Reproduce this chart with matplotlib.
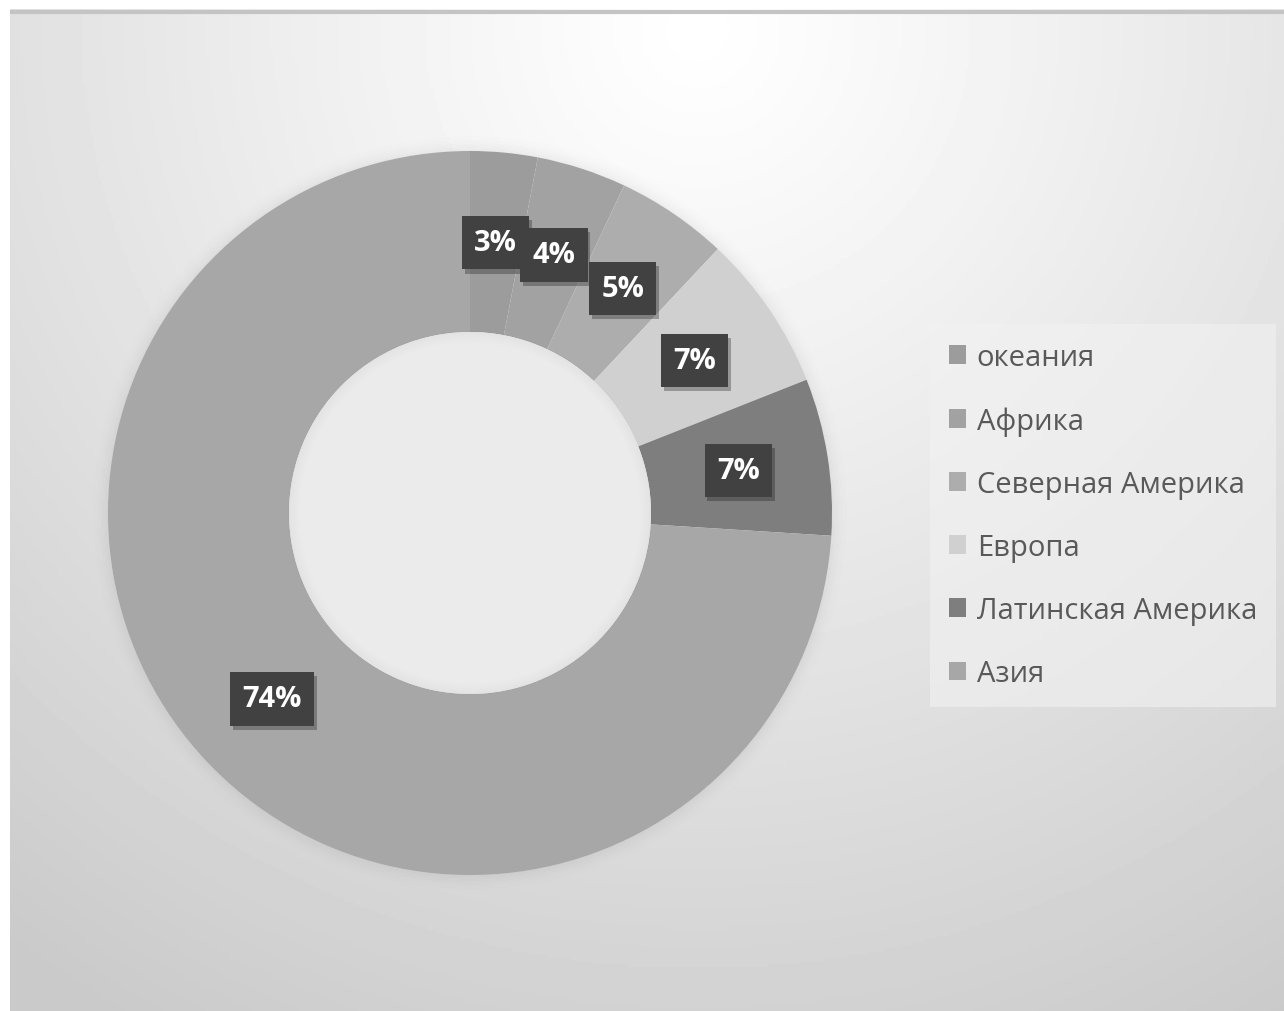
import numpy as np
import matplotlib.pyplot as plt
import matplotlib.patheffects as pe
from matplotlib.patches import Circle

# данные
regions = ['океания', 'Африка', 'Северная Америка', 'Европа', 'Латинская Америка', 'Азия']
shares = [3, 4, 5, 7, 7, 74]
colors = ['#9c9c9c', '#a2a2a2', '#adadad', '#d0d0d0', '#7e7e7e', '#a7a7a7']

plt.rcParams['font.family'] = ['Open Sans', 'DejaVu Sans']

W, H = 1284, 1012
fig = plt.figure(figsize=(W / 100, H / 100), dpi=100)
fig.patch.set_facecolor('white')

# фон с радиальным градиентом
bg = fig.add_axes([10 / W, 0, 1 - 10 / W, 1 - 10 / H])
gx, gy = np.meshgrid(np.linspace(0, 1, 400), np.linspace(0, 1, 320))
d = np.sqrt(((gx - 0.54) * 1.27) ** 2 + (gy - 0.02) ** 2)
shade = 1.0 - 0.21 * np.clip(d / 1.15, 0, 1) ** 1.1
bg.imshow(shade, cmap='gray', vmin=0, vmax=1, extent=(0, 1, 1, 0), aspect='auto')
bg.axhline(0.003, color='#c4c4c4', lw=3)
bg.set_xlim(0, 1)
bg.set_ylim(1, 0)
bg.axis('off')

# кольцевая диаграмма
cx, cy, r = 470, 514, 362
ax = fig.add_axes([(cx - r) / W, (H - cy - r) / H, 2 * r / W, 2 * r / H])
ax.set_facecolor('none')

# мягкая тень вокруг кольца
n = 16
for i in range(n):
    ax.add_patch(Circle((0, 0), 1.0 + i * 0.0035, fill=False, ec='black',
                        alpha=0.03 * (1 - i / n) ** 2, lw=1.4, zorder=0, clip_on=False))

wedges, texts, autotexts = ax.pie(
    shares, colors=colors, startangle=90, counterclock=False, radius=1,
    wedgeprops=dict(width=0.5, edgecolor='none'),
    autopct='%.0f%%', pctdistance=0.75,
    textprops=dict(color='white', fontsize=21, fontweight='bold'))
for t in autotexts:
    t.set_bbox(dict(boxstyle='square,pad=0.42', fc='#414141', ec='none'))
    t.get_bbox_patch().set_path_effects([pe.SimplePatchShadow(offset=(2, -3), alpha=0.3), pe.Normal()])

# светлое отверстие с внутренней тенью
ax.add_patch(Circle((0, 0), 0.5, fc='#ebebeb', ec='none', zorder=3))
for i in range(10):
    ax.add_patch(Circle((0, 0), 0.5 - i * 0.003, fill=False, ec='black',
                        alpha=0.02 * (1 - i / 10), lw=1.2, zorder=3))

ax.set_xlim(-1, 1)
ax.set_ylim(-1, 1)
ax.set_aspect('equal')
ax.axis('off')

leg = fig.legend(wedges, regions, loc='upper left', bbox_to_anchor=(930 / W, 1 - 325 / H),
                 fontsize=21, frameon=True, fancybox=False, handlelength=0.6, handleheight=0.6,
                 handletextpad=0.35, labelspacing=1.17, borderpad=0.65, borderaxespad=0)
leg.get_frame().set_facecolor('#f2f2f2')
leg.get_frame().set_alpha(0.6)
leg.get_frame().set_edgecolor('none')
for t in leg.get_texts():
    t.set_color('#595959')

fig.savefig('out.png', dpi=100)
